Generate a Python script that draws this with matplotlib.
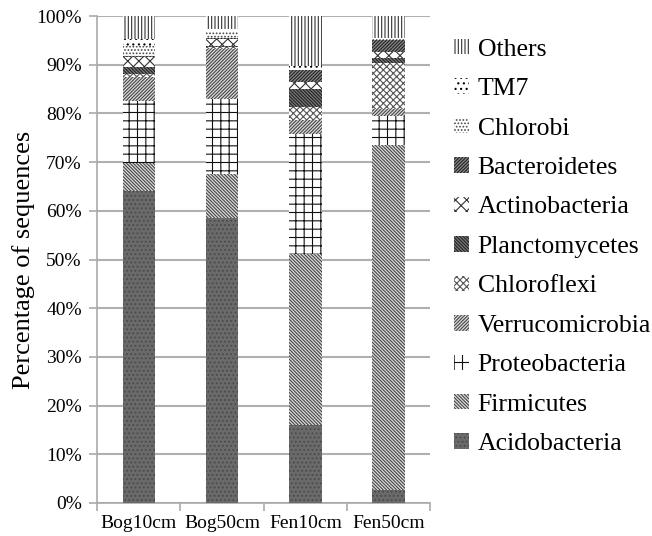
import matplotlib.pyplot as plt
import matplotlib.patches as mpatches
import numpy as np

plt.rcParams['font.family'] = ['Liberation Serif', 'DejaVu Serif']
plt.rcParams['hatch.linewidth'] = 0.8

samples = ['Bog10cm', 'Bog50cm', 'Fen10cm', 'Fen50cm']

# percentages, bottom to top of each bar
phyla = ['Acidobacteria', 'Firmicutes', 'Proteobacteria', 'Verrucomicrobia',
         'Chloroflexi', 'Planctomycetes', 'Actinobacteria', 'Bacteroidetes',
         'Chlorobi', 'TM7', 'Others']
acidobacteria = [64.1, 58.5, 16.0, 2.7]
firmicutes = [5.7, 9.0, 35.2, 70.8]
proteobacteria = [12.8, 15.4, 24.6, 6.0]
verrucomicrobia = [4.9, 10.4, 2.8, 1.5]
chloroflexi = [0.6, 0.3, 2.8, 9.3]
planctomycetes = [1.4, 0.3, 3.7, 1.0]
actinobacteria = [2.0, 1.3, 1.4, 1.4]
bacteroidetes = [0.3, 0.3, 2.5, 2.3]
chlorobi = [2.1, 1.5, 0.0, 0.6]
tm7 = [1.3, 0.3, 0.7, 0.0]
others = [4.8, 2.7, 10.3, 4.4]

values = [acidobacteria, firmicutes, proteobacteria, verrucomicrobia,
          chloroflexi, planctomycetes, actinobacteria, bacteroidetes,
          chlorobi, tm7, others]

bs = '\\' * 10
fs = '/' * 10
# (facecolor, hatch colour, hatch)
styles = [
    ('#6a6a6a', '#4a4a4a', '....'),
    ('#dddddd', '#444444', bs),
    ('white', '#111111', '++'),
    ('#dddddd', '#444444', fs),
    ('white', '#555555', 'xxxxx'),
    ('#777777', '#222222', bs),
    ('white', '#333333', 'xxx'),
    ('#888888', '#222222', fs),
    ('white', '#444444', '.....'),
    ('white', '#000000', '...'),
    ('white', '#333333', '|||||'),
]

fig = plt.figure(figsize=(6.52, 5.36), dpi=100)
ax = fig.add_axes([0.149, 0.0616, 0.511, 0.9084])

x = np.arange(len(samples))
bottom = np.zeros(len(samples))
handles = []
for name, vals, (fc, hc, h) in zip(phyla, values, styles):
    ax.bar(x, vals, 0.39, bottom=bottom, color=fc, edgecolor=hc,
           hatch=h, linewidth=0, zorder=3)
    bottom += np.array(vals)
    handles.append(mpatches.Patch(facecolor=fc, edgecolor=hc, hatch=h,
                                  linewidth=0, label=name))

ax.set_xlim(-0.5, 3.5)
ax.set_ylim(0, 100)
ax.set_yticks(np.arange(0, 101, 10))
ax.set_yticklabels(['%d%%' % v for v in range(0, 101, 10)], fontsize=14)
ax.set_xticks(x)
ax.set_xticklabels(samples, fontsize=14)
ax.set_xticks(np.arange(-0.5, 3.6, 1), minor=True)
ax.tick_params(axis='x', which='major', length=0, pad=9)
ax.tick_params(axis='x', which='minor', length=6, color='#aaaaaa', width=1.2)
ax.tick_params(axis='y', length=6, color='#aaaaaa', width=1.2, pad=5)
ax.yaxis.grid(True, color='#b0b0b0', linewidth=1.5, zorder=0)
ax.set_axisbelow(True)
for s in ['top', 'right']:
    ax.spines[s].set_visible(False)
for s in ['left', 'bottom']:
    ax.spines[s].set_color('#aaaaaa')
    ax.spines[s].set_linewidth(1.2)
ax.set_ylabel('Percentage of sequences', fontsize=19, labelpad=1)

fig.legend(handles[::-1], phyla[::-1], loc='upper left',
           bbox_to_anchor=(0.697, 0.928), frameon=False, fontsize=18.5,
           handlelength=0.55, handleheight=0.55, handletextpad=0.35,
           labelspacing=0.68, borderaxespad=0, borderpad=0)

fig.savefig('out.png', dpi=100)
